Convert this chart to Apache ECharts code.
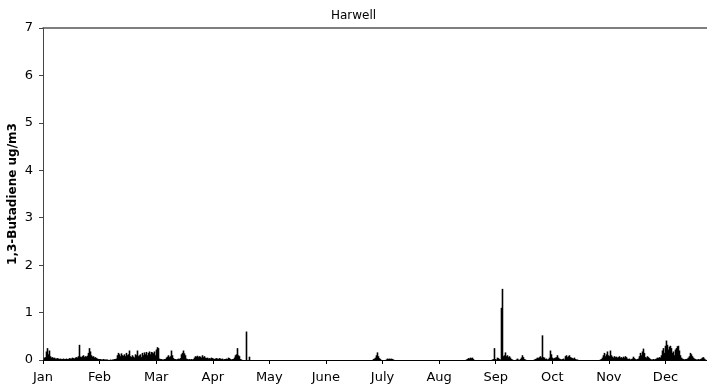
<!DOCTYPE html>
<html>
<head>
<meta charset="utf-8">
<script src="https://cdn.jsdelivr.net/npm/echarts@6/dist/echarts.min.js"></script>
<style>
  html, body { margin: 0; padding: 0; background: #fff; }
  #chart { width: 707px; height: 385px; }
</style>
</head>
<body>
<div id="chart"></div>
<script>
// month labels along the time axis
const months = ['Jan', 'Feb', 'Mar', 'Apr', 'May', 'June', 'July', 'Aug', 'Sep', 'Oct', 'Nov', 'Dec'];
const hoursPerMonth = 730;
const sampleHours = 12.9; // one reading per sample slot (peak of the hourly values)

// Jan - Apr (starts at slot 1)
const winterStart = 1;
const winterValues = [
  0.05, 0.06,
  0.18, 0.25, 0.12, 0.2, 0.08,
  0.05, 0.06, 0.04, 0.05, 0.03,
  0.03, 0.04, 0.03, 0.02, 0.03,
  0.02, 0.02, 0.03, 0.02, 0.02,
  0.03, 0.02, 0.02, 0.04, 0.03,
  0.03, 0.05, 0.04, 0.03, 0.05,
  0.06, 0.05, 0.08, 0.32, 0.07,
  0.06, 0.08, 0.1, 0.06, 0.08,
  0.07, 0.09, 0.15, 0.25, 0.18,
  0.1, 0.07, 0.08, 0.05, 0.06,
  0.04, 0.03, 0.02, 0.02, 0.02,
  0.01, 0.01, 0.02, 0.01, 0.01,
  0.01, 0.01, 0, 0, 0.01,
  0, 0.01, 0.01, 0.02, 0.02,
  0.03, 0.1, 0.15, 0.12, 0.08,
  0.14, 0.1, 0.09, 0.12, 0.08,
  0.15, 0.1, 0.12, 0.2, 0.08,
  0.06, 0.1, 0.07, 0.05, 0.12,
  0.1, 0.2, 0.08, 0.1, 0.12,
  0.06, 0.15, 0.1, 0.16, 0.12,
  0.17, 0.1, 0.15, 0.18, 0.12,
  0.17, 0.16, 0.14, 0.18, 0.1,
  0.22, 0.27, 0.25, 0.03, 0.02,
  0.02, 0.01, 0.01, 0.02, 0.02,
  0.05, 0.07, 0.1, 0.06, 0.08,
  0.2, 0.1, 0.04, 0.02, 0.02,
  0.01, 0.02, 0.03, 0.02, 0.04,
  0.12, 0.15, 0.2, 0.14, 0.1,
  0.03, 0.02, 0.01, 0.02, 0.01,
  0.02, 0.01, 0.02, 0.05, 0.08,
  0.07, 0.09, 0.06, 0.08, 0.07,
  0.05, 0.1, 0.06, 0.08, 0.05,
  0.04, 0.05, 0.03, 0.04, 0.03,
  0.05, 0.04, 0.03, 0.02, 0.03,
  0.04, 0.03, 0.02, 0.04, 0.03,
  0.02, 0.03, 0.01, 0.02, 0.02,
  0.03, 0.02, 0.05, 0.04, 0.02,
  0.01, 0.02, 0.02, 0.05, 0.1,
  0.12, 0.25, 0.1, 0.08, 0.02,
  0.01, 0, 0, 0, 0,
  0.6, 0, 0, 0.07, 0
];

// July
const julyStart = 329;
const julyValues = [
  0, 0.02, 0.03, 0.05,
  0.1, 0.16, 0.08, 0.04, 0.02,
  0, 0, 0, 0, 0,
  0.01, 0.03, 0.02, 0.03, 0.02,
  0.03, 0.02, 0.01, 0, 0
];

// Aug - Oct
const autumnStart = 423;
const autumnValues = [
  0.01, 0.02, 0.04, 0.03, 0.05,
  0.04, 0.05, 0.02, 0, 0,
  0, 0, 0, 0, 0,
  0, 0, 0, 0, 0,
  0, 0, 0, 0, 0,
  0, 0.01, 0.02, 0.25, 0.02,
  0.01, 0.05, 0.04, 0.02, 0.01,
  1.1, 1.5, 0.08, 0.1, 0.16,
  0.08, 0.1, 0.06, 0.08, 0.05,
  0.02, 0.01, 0, 0, 0,
  0.01, 0.03, 0.01, 0, 0.02,
  0.05, 0.1, 0.06, 0.02, 0.01,
  0, 0, 0, 0, 0,
  0, 0, 0, 0.01, 0.02,
  0.03, 0.05, 0.04, 0.06, 0.08,
  0.05, 0.52, 0.06, 0.05, 0.02,
  0.03, 0.01, 0.02, 0.05, 0.2,
  0.12, 0.05, 0.03, 0.04, 0.05,
  0.06, 0.1, 0.05, 0.03, 0.02,
  0.01, 0.02, 0.03, 0.01, 0.08,
  0.1, 0.06, 0.08, 0.1, 0.06,
  0.05, 0.04, 0.03, 0.05, 0.02,
  0.01, 0.01, 0, 0, 0
];

// Nov - Dec
const decemberStart = 557;
const decemberValues = [
  0.01, 0.02, 0.05, 0.1, 0.15, 0.08,
  0.12, 0.18, 0.1, 0.08, 0.2,
  0.1, 0.07, 0.05, 0.08, 0.06,
  0.07, 0.05, 0.06, 0.08, 0.05,
  0.06, 0.04, 0.07, 0.05, 0.08,
  0.06, 0.03, 0.02, 0.03, 0.01,
  0.02, 0.03, 0.07, 0.04, 0.02,
  0.01, 0.02, 0.03, 0.08, 0.15,
  0.1, 0.18, 0.24, 0.15, 0.06,
  0.05, 0.08, 0.06, 0.04, 0.02,
  0.01, 0.01, 0.02, 0.01, 0.02,
  0.03, 0.05, 0.04, 0.06, 0.05,
  0.1, 0.2, 0.25, 0.15, 0.3,
  0.41, 0.32, 0.22, 0.28, 0.3,
  0.25, 0.15, 0.18, 0.1, 0.22,
  0.25, 0.29, 0.3, 0.2, 0.1,
  0.05, 0.03, 0.02, 0.01, 0.02,
  0.02, 0.03, 0.05, 0.08, 0.15,
  0.12, 0.08, 0.05, 0.03, 0.02,
  0.01, 0.01, 0.02, 0.01, 0.02,
  0.03, 0.05, 0.06, 0.03, 0.01
];

const xMax = 8566;
const fontFamily = 'Verdana, "DejaVu Sans", sans-serif';

// each value is plotted at the middle of its sample slot
function toPoints(start, values) {
  return values.map((v, i) => [(start + i + 0.5) * sampleHours, v]);
}

const seriesData = []
  .concat(toPoints(winterStart, winterValues))
  .concat(toPoints(julyStart, julyValues))
  .concat(toPoints(autumnStart, autumnValues))
  .concat(toPoints(decemberStart, decemberValues));

const chart = echarts.init(document.getElementById('chart'));

const option = {
  animation: false,
  backgroundColor: '#fff',
  title: {
    text: 'Harwell',
    left: 'center',
    top: 5,
    textStyle: { fontFamily: fontFamily, fontSize: 12, fontWeight: 'normal', color: '#000' },
  },
  grid: { left: 43, right: 0, top: 28, bottom: 25, containLabel: false, outerBoundsMode: 'none' },
  xAxis: [
    {
      type: 'value',
      min: 0,
      max: xMax,
      interval: hoursPerMonth,
      axisLine: { show: true, lineStyle: { color: '#000', width: 1 } },
      axisTick: { show: true, length: 4, lineStyle: { color: '#000' } },
      splitLine: { show: false },
      axisLabel: {
        showMaxLabel: false,
        margin: 11,
        fontFamily: fontFamily,
        fontSize: 13,
        color: '#000',
        formatter: (v) => {
          const i = Math.round(v / hoursPerMonth);
          return Math.abs(v - i * hoursPerMonth) < 1 ? (months[i] || '') : '';
        },
      },
    },
    {
      type: 'value',
      position: 'top',
      min: 0,
      max: xMax,
      axisLine: { show: true, lineStyle: { color: '#555', width: 1.5 } },
      axisTick: { show: false },
      axisLabel: { show: false },
      splitLine: { show: false },
    },
  ],
  yAxis: {
    type: 'value',
    min: 0,
    max: 7,
    interval: 1,
    name: '1,3-Butadiene ug/m3',
    nameLocation: 'middle',
    nameGap: 24,
    nameMoveOverlap: false,
    nameTextStyle: { fontFamily: fontFamily, fontSize: 12, fontWeight: 'bold', color: '#000' },
    axisLine: { show: true, lineStyle: { color: '#444', width: 1 } },
    axisTick: { show: true, length: 4, lineStyle: { color: '#444' } },
    splitLine: { show: false },
    axisLabel: { margin: 10, fontFamily: fontFamily, fontSize: 13, color: '#000' },
  },
  series: [
    {
      type: 'bar',
      xAxisIndex: 0,
      barWidth: 1.6,
      data: seriesData,
      itemStyle: { color: '#000' },
      silent: true,
    },
  ],
};

chart.setOption(option);
</script>
</body>
</html>
